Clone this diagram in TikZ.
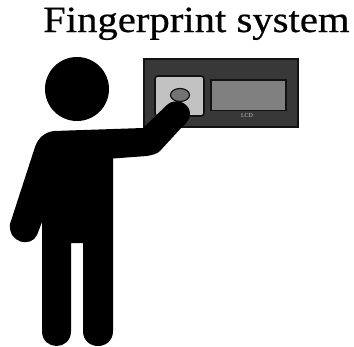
\documentclass[tikz,border=0pt]{standalone}
\usepackage{fontspec}
\setmainfont{Liberation Serif}
\newfontfamily\titlefont[FakeBold=0.5]{Liberation Serif}
\definecolor{panel}{gray}{0.22}
\definecolor{pad}{gray}{0.76}
\definecolor{screen}{gray}{0.5}
\definecolor{sensor}{gray}{0.45}
\definecolor{edge}{gray}{0.07}
\begin{document}
\begin{tikzpicture}[x=1pt,y=-1pt,
  sil/.style={fill=black,draw=none},
  part/.style={draw=edge,line width=1.6pt}]
\useasboundingbox[fill=white] (0,0) rectangle (354,346);
\node[anchor=base west,inner sep=0pt,font=\titlefont\fontsize{37}{37}\selectfont] (title) at (43,32) {\scalebox{1.1}[1]{Fingerprint system}};
\draw[part,line width=2.2pt,fill=panel] (144,59) rectangle (298,127);
\draw[part,fill=pad,rounded corners=3pt] (155,76) rectangle (204,116);
\draw[part,fill=screen] (211,80) rectangle (286,110.5);
\draw[part,line width=1.2pt,fill=sensor] (180,95) ellipse (9.5 and 6.5);
\node[inner sep=0pt,text=white!75!black,font=\fontsize{6}{6}\selectfont] (lcd) at (247,115.5) {LCD};
\fill[sil] (77,89) circle (32);
\fill[sil] (54,131) -- (143,128) -- (167,105)
  .. controls (172,100) and (182,100) .. (187,106)
  .. controls (192,112) and (191,120) .. (182,127)
  -- (160,151) .. controls (157,154) and (152,155) .. (147,156)
  -- (113,158.5) -- (113,331)
  .. controls (113,351) and (83,351) .. (83,331)
  -- (83,243) -- (71,243) -- (71,331)
  .. controls (71,351) and (42,351) .. (42,331)
  -- (42,222) -- (37,235)
  .. controls (31,248) and (8,243) .. (10,224)
  -- (35,147) .. controls (38,138) and (45,132) .. (54,131) -- cycle;
\end{tikzpicture}
\end{document}
